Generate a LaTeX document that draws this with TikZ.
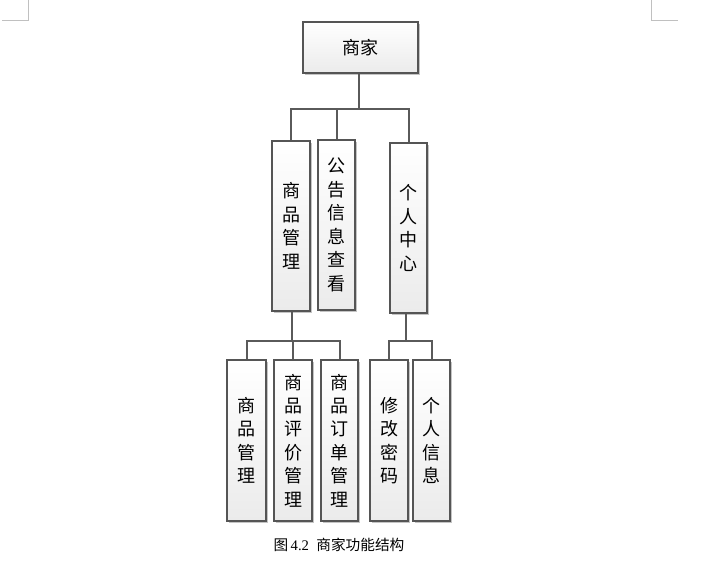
\documentclass[tikz,border=0pt]{standalone}
\usepackage{fontspec}
\setmainfont{Liberation Serif}
\newfontfamily\cjk{Noto Sans CJK SC}
\usetikzlibrary{shadows}
\definecolor{edge}{HTML}{555555}
\definecolor{wire}{HTML}{5A5A5A}
\definecolor{bottomfill}{HTML}{EBEBEB}
\definecolor{shade}{HTML}{C4C4C4}
\definecolor{crop}{HTML}{C0C0C0}
\begin{document}
\begin{tikzpicture}[x=0.75pt,y=-0.75pt,
  box/.style={draw=edge, line width=0.85pt, top color=white, bottom color=bottomfill,
    drop shadow={shadow xshift=1.2pt, shadow yshift=-1.2pt, fill=shade, opacity=1},
    inner sep=0pt, align=center, font=\cjk\fontsize{13.5}{17.6}\selectfont},
  wire/.style={draw=wire, line width=1.5pt},
  cropmark/.style={draw=crop, line width=0.75pt}]
\useasboundingbox (0,0) rectangle (708,571);
% crop marks
\coordinate (cl1) at (28,0); \coordinate (cl2) at (28,20); \coordinate (cl3) at (2,20);
\coordinate (cr1) at (651,0); \coordinate (cr2) at (651,20); \coordinate (cr3) at (678,20);
\draw[cropmark] (cl1) -- (cl2) -- (cl3);
\draw[cropmark] (cr1) -- (cr2) -- (cr3);
% connectors (behind boxes)
\coordinate (j1) at (359,109);
\coordinate (j2) at (292,340.5);
\coordinate (j3) at (406,340.5);
% boxes
\node[box, minimum width=86.25pt, minimum height=38.25pt] (top) at (360.5,47.5) {商家};
\node[box, minimum width=28.5pt, minimum height=127.5pt] (m1) at (291,226) {商\\品\\管\\理};
\node[box, minimum width=27.75pt, minimum height=127.5pt] (m2) at (336.5,225) {公\\告\\信\\息\\查\\看};
\node[box, minimum width=27.75pt, minimum height=127.5pt] (m3) at (408.5,228) {个\\人\\中\\心};
\node[box, minimum width=29.25pt, minimum height=120.75pt] (b1) at (246.5,440.5) {商\\品\\管\\理};
\node[box, minimum width=28.5pt, minimum height=120.75pt] (b2) at (293,440.5) {商\\品\\评\\价\\管\\理};
\node[box, minimum width=27.75pt, minimum height=120.75pt] (b3) at (339.5,440.5) {商\\品\\订\\单\\管\\理};
\node[box, minimum width=28.5pt, minimum height=120.75pt] (b4) at (389,440.5) {修\\改\\密\\码};
\node[box, minimum width=27.75pt, minimum height=120.75pt] (b5) at (431.5,440.5) {个\\人\\信\\息};
\draw[wire] (top.south -| j1) -- (j1);
\draw[wire] (m1.north) |- (j1) -| (m3.north);
\draw[wire] (m2.north) -- (m2.north |- j1);
\draw[wire] (m1.south -| j2) -- (j2);
\draw[wire] (b1.north) |- (j2) -| (b3.north);
\draw[wire] (b2.north) -- (b2.north |- j2);
\draw[wire] (m3.south -| j3) -- (j3);
\draw[wire] (b4.north) |- (j3) -| (b5.north);
% caption
\node[font=\fontsize{11}{13}\selectfont, inner sep=0pt] (cap) at (339,545) {{\cjk 图}\,4.2\ \ {\cjk 商家功能结构}};
\end{tikzpicture}
\end{document}
